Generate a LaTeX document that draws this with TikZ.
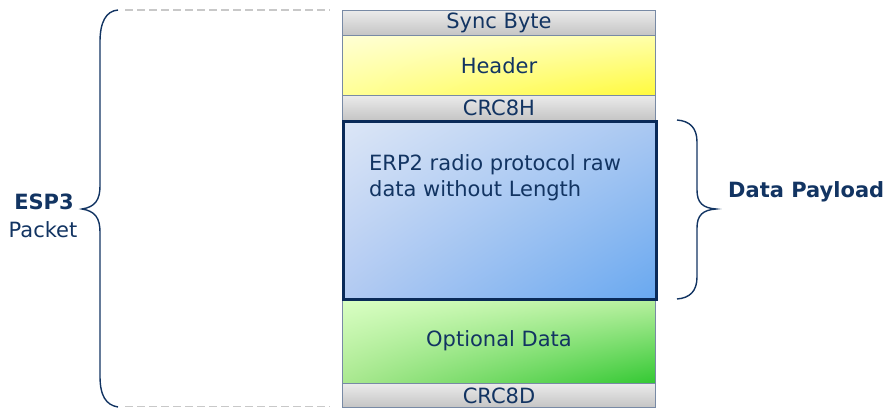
\documentclass[tikz,border=0pt]{standalone}
\usepackage{fontspec}
\setmainfont{DejaVu Sans}
\usetikzlibrary{shadings}
\definecolor{navy}{RGB}{18,52,98}
\definecolor{framenavy}{RGB}{10,42,88}
\definecolor{boxline}{RGB}{120,138,165}
\definecolor{dashgray}{RGB}{200,200,200}
\definecolor{yUL}{RGB}{255,255,212}
\definecolor{yUR}{RGB}{255,255,170}
\definecolor{yLL}{RGB}{255,255,150}
\definecolor{yLR}{RGB}{255,250,60}
\definecolor{bUL}{RGB}{220,230,246}
\definecolor{bUR}{RGB}{170,200,242}
\definecolor{bLL}{RGB}{178,202,242}
\definecolor{bLR}{RGB}{104,168,240}
\definecolor{gUL}{RGB}{218,255,196}
\definecolor{gUR}{RGB}{185,240,160}
\definecolor{gLL}{RGB}{170,232,144}
\definecolor{gLR}{RGB}{50,200,50}
\tikzset{
  field/.style={draw=boxline, line width=1pt, minimum width=313pt, inner sep=0pt,
    anchor=north west, text=navy, font=\fontsize{21}{25}\selectfont},
  graybox/.style={top color=black!8, bottom color=black!23},
  yellowbox/.style={upper left=yUL, upper right=yUR, lower left=yLL, lower right=yLR},
  bluebox/.style={upper left=bUL, upper right=bUR, lower left=bLL, lower right=bLR},
  greenbox/.style={upper left=gUL, upper right=gUR, lower left=gLL, lower right=gLR},
  brace/.style={draw=navy, line width=1.4pt},
  guide/.style={draw=dashgray, line width=1.8pt, dash pattern=on 8pt off 4pt},
  label/.style={text=navy, inner sep=0pt, font=\fontsize{21}{25}\selectfont}
}
\begin{document}
\begin{tikzpicture}[x=1pt,y=-1pt]
\useasboundingbox (0,0) rectangle (886,407);
% guide lines
\coordinate (gt1) at (125,10);
\coordinate (gt2) at (330,10);
\coordinate (gb1) at (125,406.5);
\coordinate (gb2) at (330,406.5);
\draw[guide] (gt1) -- (gt2);
\draw[guide] (gb1) -- (gb2);
% fields
\node[field, graybox, minimum height=25pt] (sync) at (342,10) {Sync Byte};
\node[field, yellowbox, minimum height=60pt] (header) at (342,35) {Header};
\node[field, graybox, minimum height=25pt] (crch) at (342,95) {CRC8H};
\node[field, greenbox, minimum height=85pt] (opt) at (342,298) {Optional Data};
\node[field, graybox, minimum height=24pt] (crcd) at (342,383) {CRC8D};
\node[field, bluebox, draw=framenavy, line width=3pt, minimum height=178pt] (payload) at (342,120) {};
\node[label, anchor=north west, align=left, font=\fontsize{21}{26}\selectfont] (ptext) at (369,154)
  {ERP2 radio protocol raw\\data without Length};
% left brace
\draw[brace] (118,10) .. controls (106,11) and (100,22) .. (100,42) -- (100,186)
  .. controls (100,200) and (95,207) .. (82,209)
  .. controls (95,211) and (100,218) .. (100,232) -- (100,376)
  .. controls (100,396) and (106,405) .. (118,407);
% right brace
\draw[brace] (677,120) .. controls (690,121) and (697,128) .. (697,142) -- (697,190)
  .. controls (697,203) and (703,208) .. (716,209)
  .. controls (703,210) and (697,215) .. (697,228) -- (697,277)
  .. controls (697,291) and (690,298) .. (677,299);
% labels
\node[label, anchor=base, font=\fontsize{21}{25}\selectfont\bfseries] (esp) at (44,209) {ESP3};
\node[label, anchor=base] (packet) at (43,237) {Packet};
\node[label, anchor=base west, font=\fontsize{21}{25}\selectfont\bfseries] (dp) at (728,197) {Data Payload};
\end{tikzpicture}
\end{document}
